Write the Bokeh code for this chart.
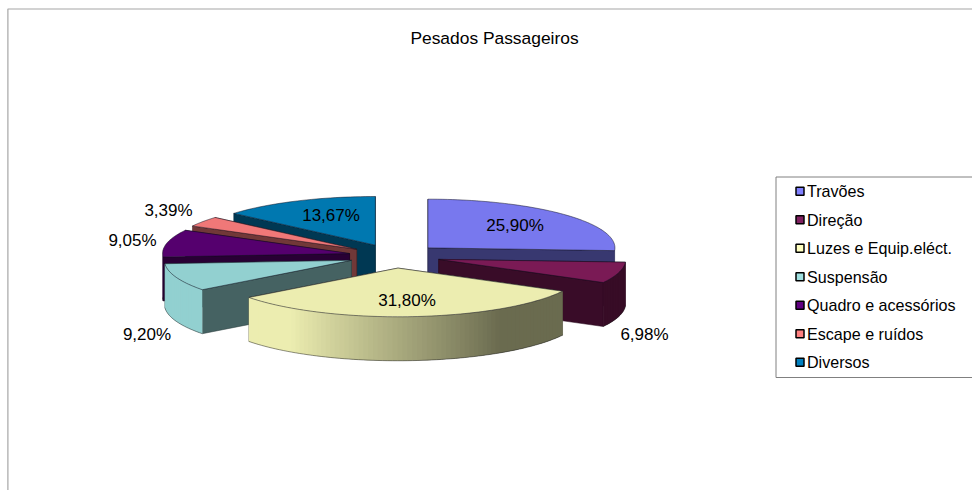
import math
from bokeh.plotting import figure
from bokeh.models import Range1d
from bokeh.core.properties import value
from bokeh.embed import file_html
from bokeh.resources import INLINE

title = "Pesados Passageiros"
categories = ["Travões", "Direção", "Luzes e Equip.eléct.", "Suspensão",
              "Quadro e acessórios", "Escape e ruídos", "Diversos"]
shares = [25.90, 6.98, 31.80, 9.20, 9.05, 3.39, 13.67]
top_colors = ["#7878ee", "#7a1a55", "#ecedb0", "#92d0d0", "#55006e", "#f07878", "#0078b0"]
legend_colors = ["#8080ff", "#802060", "#ffffc0", "#a0e0e0", "#600080", "#ff8080", "#0080c0"]

# layout, in page pixels
label_centres = [(514.5, 224.5), (644, 334), (406.5, 300), (146.5, 334), (132, 240), (168, 209.5), (330.5, 214.5)]
paint_order = [6, 0, 5, 4, 3, 1, 2]
CX, CY, A, B, DEPTH, EX, EY = 394.0, 255.6, 187.0, 48.7, 44.0, 46.0, 12.0
FONT = value("Liberation Sans")


def rgb(h):
    return [int(h[i:i + 2], 16) for i in (1, 3, 5)]


def shade(h, f):
    return "#%02x%02x%02x" % tuple(min(255, int(round(c * f))) for c in rgb(h))


def rim_light(t):
    if t <= 147 or t >= 266:
        return 0.45
    if t >= 215:
        return 1.0
    return 0.45 + 0.55 * (t - 147) / 68.0


p = figure(width=972, height=490, output_backend="svg", toolbar_location=None,
           x_range=Range1d(0, 972), y_range=Range1d(490, 0),
           min_border=0, outline_line_color=None, background_fill_color="white")
p.xaxis.visible = False
p.yaxis.visible = False
p.grid.visible = False

# chart frame
p.line([7.4, 7.4, 972], [490, 8.5, 8.5], line_color="#a6a6a6", line_width=1.2)

total = sum(shares)
starts = []
acc = 0.0
for s in shares:
    starts.append(acc)
    acc += s / total * 360.0


def pt(ax, ay, t, dz=0.0):
    r = math.radians(t)
    return ax + A * math.sin(r), ay - B * math.cos(r) + dz


for i in paint_order:
    t0 = starts[i]
    t1 = t0 + shares[i] / total * 360.0
    tm = math.radians((t0 + t1) / 2)
    ax = CX + EX * math.sin(tm)
    ay = CY - EY * math.cos(tm)
    col = top_colors[i]
    wall = shade(col, 0.47)

    # radial walls: the one nearer the back first
    walls = sorted([t0, t1], key=lambda t: pt(ax, ay, t)[1])
    for t in walls:
        ex, ey = pt(ax, ay, t)
        p.patch([ax, ex, ex, ax], [ay, ey, ey + DEPTH, ay + DEPTH],
                fill_color=wall, line_color=shade(col, 0.3), line_width=0.5)

    # outer rim: only the part that faces the viewer
    r0, r1 = max(t0, 90.0), min(t1, 270.0)
    if r1 > r0:
        n = max(2, int((r1 - r0) / 1.5))
        ts = [r0 + (r1 - r0) * k / n for k in range(n + 1)]
        for k in range(n):
            a = ts[k]
            b = ts[min(k + 2, n)]
            xa, ya = pt(ax, ay, a)
            xm, ym = pt(ax, ay, ts[k + 1])
            xb, yb = pt(ax, ay, b)
            c = shade(col, rim_light((ts[k] + ts[k + 1]) / 2))
            p.patch([xa, xm, xb, xb, xm, xa],
                    [ya, ym, yb, yb + DEPTH, ym + DEPTH, ya + DEPTH],
                    fill_color=c, line_color=None)
        low = [pt(ax, ay, t, DEPTH) for t in ts]
        p.line([q[0] for q in low], [q[1] for q in low],
               line_color="#202020", line_width=0.7, line_alpha=0.7)

    # top surface
    n = max(4, int((t1 - t0) / 1.5))
    arc = [pt(ax, ay, t0 + (t1 - t0) * k / n) for k in range(n + 1)]
    p.patch([ax] + [q[0] for q in arc], [ay] + [q[1] for q in arc],
            fill_color=col, line_color="#101020", line_width=0.7, line_alpha=0.7)

# percentage labels
p.text([c[0] for c in label_centres], [c[1] for c in label_centres],
       text=[("%.2f%%" % s).replace(".", ",") for s in shares],
       text_font=FONT, text_font_size="17px", text_color="#000000",
       text_align="center", text_baseline="middle")

# title
p.text([494], [37], text=[title], text_font=FONT, text_font_size="17.4px",
       text_color="#000000", text_align="center", text_baseline="middle")

# legend
LX, LY, LSTEP = 775.5, 190.7, 28.5
p.line([972, LX, LX, 972], [176.5, 176.5, 377, 377], line_color="#808080", line_width=1)
ys = [LY + LSTEP * k for k in range(len(categories))]
p.rect([799.5] * len(ys), ys, width=8, height=8, fill_color=legend_colors,
       line_color="#000000", line_width=1.5)
p.text([806.5] * len(ys), ys, text=categories, text_font=FONT, text_font_size="16.1px",
       text_color="#000000", text_align="left", text_baseline="middle")

open("out.html", "w").write(file_html(p, INLINE))
